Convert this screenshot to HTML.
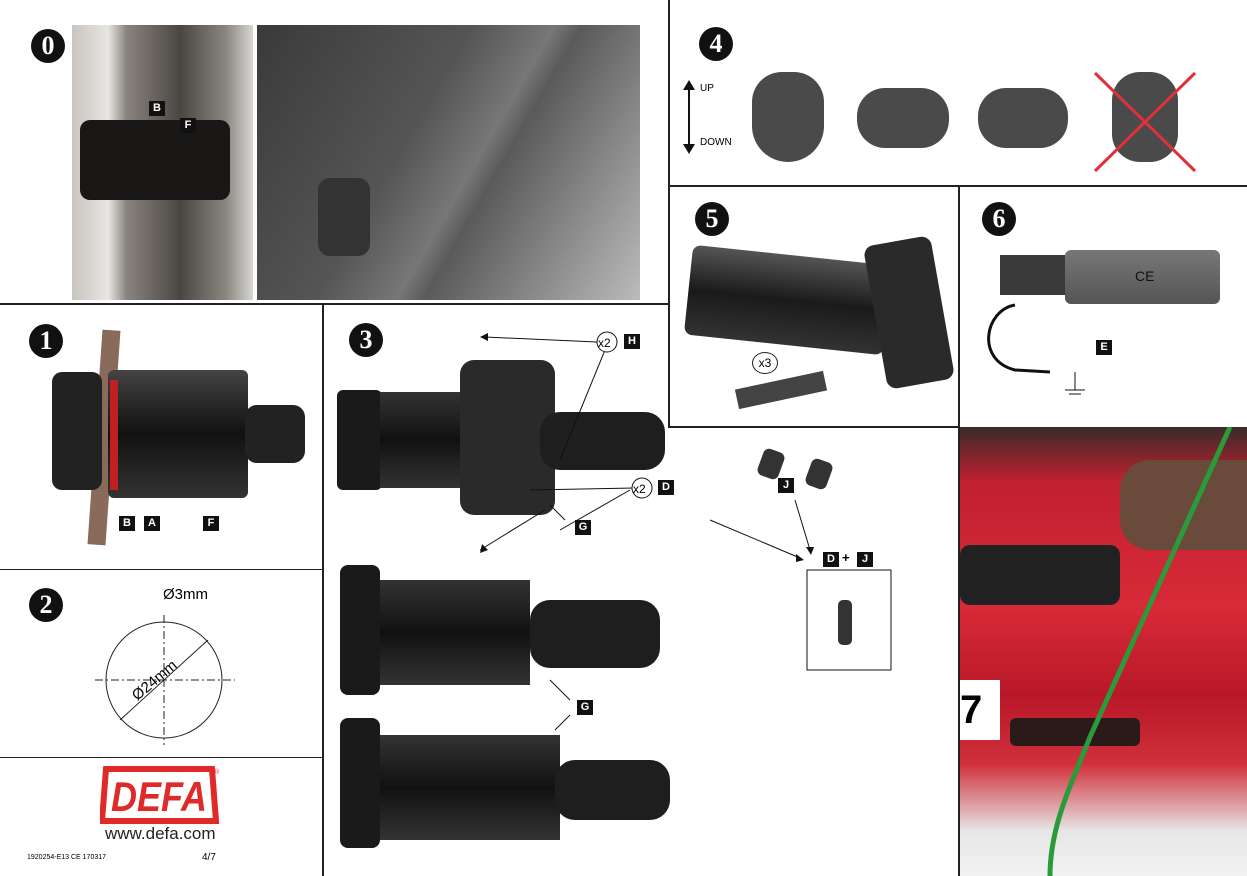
<!DOCTYPE html>
<html><head><meta charset="utf-8"><style>
body{margin:0;width:1247px;height:876px;background:#fff;position:relative;overflow:hidden;font-family:"Liberation Sans",sans-serif}
.a{position:absolute}
.ln{position:absolute;background:#222}
.num{position:absolute;width:34px;height:34px;border-radius:50%;background:#111;color:#fff;font:bold 26px "Liberation Serif",serif;text-align:center;line-height:34px}
.lb{position:absolute;background:#111;color:#fff;font:bold 11px "Liberation Sans",sans-serif;width:16px;height:15px;line-height:15px;text-align:center}
</style></head><body>
<div class="ln" style="left:668px;top:0;width:2px;height:426px"></div>
<div class="ln" style="left:0;top:303px;width:670px;height:2px"></div>
<div class="ln" style="left:668px;top:185px;width:579px;height:2px"></div>
<div class="ln" style="left:958px;top:185px;width:2px;height:691px"></div>
<div class="ln" style="left:668px;top:426px;width:291px;height:2px"></div>
<div class="ln" style="left:322px;top:303px;width:2px;height:573px"></div>
<div class="ln" style="left:0;top:569px;width:323px;height:1px"></div>
<div class="ln" style="left:0;top:757px;width:323px;height:1px"></div>

<div class="a" style="left:72px;top:25px;width:181px;height:275px;background:linear-gradient(90deg,#c8c4c0 0,#e8e6e2 20%,#8a8480 30%,#4a4642 60%,#8a8680 85%,#d8d6d2 100%)"></div>
<div class="a" style="left:80px;top:120px;width:150px;height:80px;background:#1a1816;border-radius:10px"></div>
<div class="lb" style="left:149px;top:101px">B</div><div class="lb" style="left:180px;top:118px">F</div>
<div class="a" style="left:257px;top:25px;width:383px;height:275px;background:linear-gradient(120deg,#3a3a3a 0,#555 40%,#777 55%,#5a5a5a 60%,#8a8a8a 80%,#bbb 100%)"></div>
<div class="a" style="left:318px;top:178px;width:52px;height:78px;background:#333;border-radius:12px"></div>
<div class="num" style="left:31px;top:29px">0</div>

<div class="num" style="left:699px;top:27px">4</div>
<svg class="a" style="left:680px;top:80px" width="20" height="75"><line x1="9" y1="6" x2="9" y2="68" stroke="#111" stroke-width="2"/><polygon points="3,10 9,0 15,10" fill="#111"/><polygon points="3,64 9,74 15,64" fill="#111"/></svg>
<div class="a" style="left:700px;top:83px;font-size:10px">UP</div>
<div class="a" style="left:700px;top:137px;font-size:10px">DOWN</div>
<div class="a" style="left:752px;top:72px;width:72px;height:90px;background:#4a4a4a;border-radius:30px 30px 36px 36px"></div>
<div class="a" style="left:857px;top:88px;width:92px;height:60px;background:#4a4a4a;border-radius:28px"></div>
<div class="a" style="left:978px;top:88px;width:90px;height:60px;background:#4a4a4a;border-radius:28px"></div>
<div class="a" style="left:1112px;top:72px;width:66px;height:90px;background:#4a4a4a;border-radius:28px"></div>
<svg class="a" style="left:1090px;top:68px" width="110" height="108"><line x1="5" y1="5" x2="105" y2="103" stroke="#e0303a" stroke-width="3"/><line x1="105" y1="5" x2="5" y2="103" stroke="#e0303a" stroke-width="3"/></svg>

<div class="num" style="left:695px;top:202px">5</div>
<div class="a" style="left:688px;top:255px;width:200px;height:90px;background:linear-gradient(180deg,#555,#1a1a1a 50%,#333);border-radius:8px;transform:rotate(6deg)"></div>
<div class="a" style="left:875px;top:240px;width:68px;height:145px;background:#2a2a2a;border-radius:10px;transform:rotate(-10deg)"></div>
<div class="a" style="left:736px;top:380px;width:90px;height:20px;background:#444;transform:rotate(-12deg)"></div>
<div class="a" style="left:752px;top:352px;width:24px;height:20px;border:1px solid #222;border-radius:50%;font-size:12px;text-align:center;line-height:20px;background:#fff">x3</div>

<div class="num" style="left:982px;top:202px">6</div>
<div class="a" style="left:1000px;top:255px;width:70px;height:40px;background:#3a3a3a"></div>
<div class="a" style="left:1065px;top:250px;width:155px;height:54px;background:linear-gradient(180deg,#777,#555);border-radius:6px"></div>
<div class="a" style="left:1135px;top:268px;font-size:14px;color:#111">CE</div>
<svg class="a" style="left:975px;top:300px" width="130" height="100"><path d="M40 5 C10 10,0 60,40 70 L75 72" stroke="#111" stroke-width="3" fill="none"/><line x1="100" y1="72" x2="100" y2="90" stroke="#111"/><line x1="90" y1="90" x2="110" y2="90" stroke="#111"/><line x1="94" y1="94" x2="106" y2="94" stroke="#111"/></svg>
<div class="lb" style="left:1096px;top:340px">E</div>

<div class="a" style="left:960px;top:427px;width:287px;height:449px;background:linear-gradient(180deg,#3a2a2a 0,#c02030 12%,#d82a38 40%,#b81828 60%,#d0303a 75%,#e6e6e6 90%,#f2f2f2 100%)"></div>
<div class="a" style="left:960px;top:545px;width:160px;height:60px;background:#222;border-radius:10px"></div>
<div class="a" style="left:1120px;top:460px;width:127px;height:90px;background:#6a4a3a;border-radius:30px 0 0 30px"></div>
<div class="a" style="left:960px;top:680px;width:40px;height:60px;background:#fff;font:bold 40px sans-serif;line-height:60px">7</div>
<div class="a" style="left:1010px;top:718px;width:130px;height:28px;background:#2a1a1a;border-radius:6px"></div>
<svg class="a" style="left:1030px;top:427px" width="217" height="449"><path d="M200 0 L60 310 C40 360,20 400,20 449" stroke="#2a9a3a" stroke-width="5" fill="none"/></svg>

<div class="num" style="left:29px;top:324px">1</div>
<div class="a" style="left:95px;top:330px;width:18px;height:215px;background:#8a6a5a;transform:rotate(4deg)"></div>
<div class="a" style="left:52px;top:372px;width:50px;height:118px;background:#222;border-radius:10px"></div>
<div class="a" style="left:108px;top:370px;width:140px;height:128px;background:linear-gradient(180deg,#444,#111 50%,#333);border-radius:6px"></div>
<div class="a" style="left:110px;top:380px;width:8px;height:110px;background:#c02020"></div>
<div class="a" style="left:245px;top:405px;width:60px;height:58px;background:#222;border-radius:12px"></div>
<div class="lb" style="left:119px;top:516px">B</div><div class="lb" style="left:144px;top:516px">A</div><div class="lb" style="left:203px;top:516px">F</div>

<div class="num" style="left:29px;top:588px">2</div>
<svg class="a" style="left:90px;top:580px" width="160" height="170">
<circle cx="74" cy="100" r="58" fill="none" stroke="#222"/>
<line x1="74" y1="35" x2="74" y2="165" stroke="#222" stroke-dasharray="8,3,2,3"/>
<line x1="5" y1="100" x2="145" y2="100" stroke="#222" stroke-dasharray="8,3,2,3"/>
<line x1="30" y1="140" x2="118" y2="60" stroke="#222"/>
</svg>
<div class="a" style="left:163px;top:586px;font-size:15px">Ø3mm</div>
<div class="a" style="left:128px;top:672px;font-size:15px;transform:rotate(-40deg)">Ø24mm</div>

<svg class="a" style="left:100px;top:766px" width="120" height="58">
<polygon points="6,3 112,3 116,55 2,55" fill="#fff" stroke="#e02a2a" stroke-width="6"/>
<text x="59" y="45" text-anchor="middle" font-family="Liberation Sans" font-weight="bold" font-style="italic" font-size="42" fill="#e02a2a" textLength="96" lengthAdjust="spacingAndGlyphs">DEFA</text>
<text x="114" y="8" font-size="7" fill="#e02a2a" font-family="Liberation Sans">®</text>
</svg>
<div class="a" style="left:105px;top:824px;font-size:17px;color:#222">www.defa.com</div>
<div class="a" style="left:27px;top:854px;font-size:7px">1920254-E13 CE 170317</div>
<div class="a" style="left:202px;top:852px;font-size:10px">4/7</div>

<div class="num" style="left:349px;top:323px">3</div>
<div class="a" style="left:337px;top:390px;width:45px;height:100px;background:#1a1a1a;border-radius:6px"></div>
<div class="a" style="left:380px;top:392px;width:160px;height:96px;background:linear-gradient(180deg,#333,#111 50%,#333)"></div>
<div class="a" style="left:460px;top:360px;width:95px;height:155px;background:#2a2a2a;border-radius:14px"></div>
<div class="a" style="left:540px;top:412px;width:125px;height:58px;background:#1e1e1e;border-radius:20px"></div>
<div class="a" style="left:340px;top:565px;width:40px;height:130px;background:#1a1a1a;border-radius:8px"></div>
<div class="a" style="left:380px;top:580px;width:150px;height:105px;background:linear-gradient(180deg,#333,#111 50%,#333)"></div>
<div class="a" style="left:530px;top:600px;width:130px;height:68px;background:#1e1e1e;border-radius:20px"></div>
<div class="a" style="left:340px;top:718px;width:40px;height:130px;background:#1a1a1a;border-radius:8px"></div>
<div class="a" style="left:380px;top:735px;width:180px;height:105px;background:linear-gradient(180deg,#333,#111 50%,#333)"></div>
<div class="a" style="left:555px;top:760px;width:115px;height:60px;background:#1e1e1e;border-radius:20px"></div>
<svg class="a" style="left:330px;top:310px" width="620" height="560">
<g stroke="#111" stroke-width="1" fill="none">
<line x1="155" y1="27" x2="267" y2="32"/><line x1="275" y1="40" x2="230" y2="150"/>
<line x1="304" y1="178" x2="200" y2="180"/><line x1="300" y1="180" x2="230" y2="220"/>
<line x1="220" y1="195" x2="235" y2="210"/><line x1="215" y1="200" x2="150" y2="240"/>
<line x1="220" y1="370" x2="240" y2="390"/><line x1="240" y1="405" x2="225" y2="420"/>
<line x1="380" y1="210" x2="470" y2="248"/><line x1="465" y1="190" x2="480" y2="240"/>
<rect x="477" y="260" width="84" height="100"/>
</g>
<g fill="#111"><polygon points="150,27 158,23 158,31"/><polygon points="150,243 152,234 158,240"/><polygon points="474,250 466,244 466,252"/><polygon points="481,245 476,237 484,237"/></g>
<circle cx="277" cy="32" r="10" fill="#fff" stroke="#111"/><text x="268" y="37" font-size="12" font-family="Liberation Sans">x2</text>
<circle cx="312" cy="178" r="10" fill="#fff" stroke="#111"/><text x="303" y="183" font-size="12" font-family="Liberation Sans">x2</text>
</svg>
<div class="lb" style="left:624px;top:334px">H</div>
<div class="lb" style="left:658px;top:480px">D</div>
<div class="lb" style="left:575px;top:520px">G</div>
<div class="lb" style="left:577px;top:700px">G</div>
<div class="lb" style="left:778px;top:478px">J</div>
<div class="lb" style="left:823px;top:552px">D</div><div class="a" style="left:842px;top:550px;font:bold 13px sans-serif">+</div><div class="lb" style="left:857px;top:552px">J</div>
<div class="a" style="left:760px;top:450px;width:22px;height:28px;background:#333;border-radius:6px;transform:rotate(20deg)"></div>
<div class="a" style="left:808px;top:460px;width:22px;height:28px;background:#333;border-radius:6px;transform:rotate(20deg)"></div>
<div class="a" style="left:838px;top:600px;width:14px;height:45px;background:#333;border-radius:5px"></div>
</body></html>
